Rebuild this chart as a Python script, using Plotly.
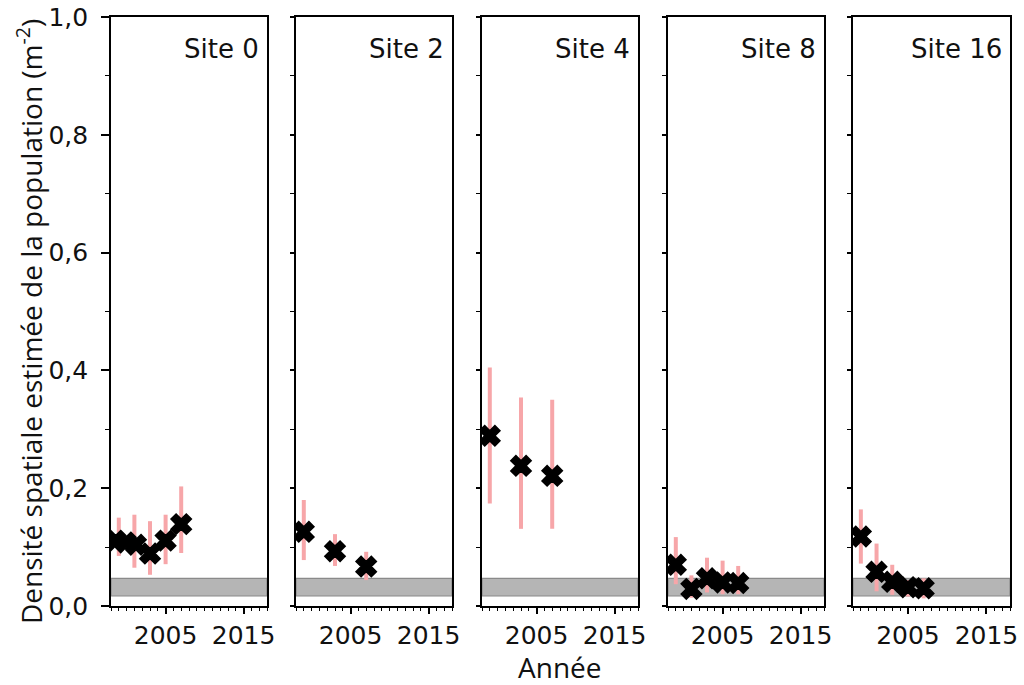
import plotly.graph_objects as go

# ---------------- data ----------------
sites = ["Site 0", "Site 2", "Site 4", "Site 8", "Site 16"]

s0_year = [1998.6, 1999.9, 2001.2, 2003, 2005, 2007]
s0_val = [0.111, 0.108, 0.104, 0.089, 0.111, 0.139]
s0_bar_year = [1999, 2001, 2003, 2005, 2007]
s0_low = [0.085, 0.065, 0.053, 0.071, 0.090]
s0_high = [0.150, 0.155, 0.144, 0.155, 0.203]

s2_year = [1999, 2003, 2007]
s2_val = [0.126, 0.093, 0.067]
s2_bar_year = [1999, 2003, 2007]
s2_low = [0.078, 0.068, 0.044]
s2_high = [0.180, 0.122, 0.092]

s4_year = [1999, 2003, 2007]
s4_val = [0.289, 0.238, 0.221]
s4_bar_year = [1999, 2003, 2007]
s4_low = [0.174, 0.131, 0.131]
s4_high = [0.405, 0.354, 0.350]

s8_year = [1999, 2001, 2003, 2005, 2007]
s8_val = [0.070, 0.029, 0.047, 0.040, 0.039]
s8_bar_year = [1999, 2001, 2003, 2005, 2007]
s8_low = [0.037, 0.014, 0.023, 0.020, 0.020]
s8_high = [0.117, 0.052, 0.082, 0.077, 0.068]

s16_year = [1999, 2001, 2003, 2005, 2007]
s16_val = [0.118, 0.058, 0.041, 0.032, 0.030]
s16_bar_year = [1999, 2001, 2003, 2005, 2007]
s16_low = [0.072, 0.025, 0.019, 0.016, 0.013]
s16_high = [0.164, 0.106, 0.070, 0.044, 0.047]

band_low = 0.017
band_high = 0.047

y_ticks = [0.0, 0.2, 0.4, 0.6, 0.8, 1.0]
y_ticklabels = ["0,0", "0,2", "0,4", "0,6", "0,8", "1,0"]
x_ticks = [2005, 2015]
x_ticklabels = ["2005", "2015"]
x_range = [1998, 2018]

data = [
    (s0_year, s0_val, s0_bar_year, s0_low, s0_high),
    (s2_year, s2_val, s2_bar_year, s2_low, s2_high),
    (s4_year, s4_val, s4_bar_year, s4_low, s4_high),
    (s8_year, s8_val, s8_bar_year, s8_low, s8_high),
    (s16_year, s16_val, s16_bar_year, s16_low, s16_high),
]

# ---------------- layout geometry ----------------
W, H = 1024, 685
panel_px = [(111, 267), (296, 452), (482, 638), (668, 824), (853, 1010)]
y_top_px, y_bot_px = 17, 606
ydom = [(H - y_bot_px) / H, (H - y_top_px) / H]

TICK_FONT = dict(family="DejaVu Sans", size=25, color="#111111")
BAR_COLOR = "#f7a6a9"

fig = go.Figure()
layout = dict(
    width=W, height=H,
    margin=dict(l=0, r=0, t=0, b=0, autoexpand=False),
    paper_bgcolor="white", plot_bgcolor="white",
    showlegend=False,
    separators=", ",
)
shapes = []
annotations = []

for i, (name, (yr, val, byr, lo, hi)) in enumerate(zip(sites, data)):
    n = i + 1
    xa = "x" if n == 1 else f"x{n}"
    ya = "y" if n == 1 else f"y{n}"
    mid = [(a + b) / 2 for a, b in zip(lo, hi)]
    fig.add_trace(go.Scatter(
        x=byr, y=mid, mode="markers",
        marker=dict(size=1, color="rgba(0,0,0,0)"),
        error_y=dict(type="data", symmetric=False,
                     array=[h - m for h, m in zip(hi, mid)],
                     arrayminus=[m - l for m, l in zip(mid, lo)],
                     color=BAR_COLOR, thickness=4, width=0),
        xaxis=xa, yaxis=ya, hoverinfo="skip",
    ))
    fig.add_trace(go.Scatter(
        x=yr, y=val, mode="markers",
        marker=dict(symbol="x", size=18, color="black",
                    line=dict(color="black", width=1.5)),
        xaxis=xa, yaxis=ya,
    ))
    x0, x1 = panel_px[i]
    layout[f"xaxis{n if n > 1 else ''}"] = dict(
        domain=[x0 / W, x1 / W], range=x_range, anchor=ya, automargin=False,
        tickmode="array", tickvals=x_ticks, ticktext=x_ticklabels,
        ticks="outside", ticklen=6, tickwidth=1.5, tickcolor="black",
        minor=dict(ticks="outside", dtick=1, tick0=1998, ticklen=3,
                   tickwidth=1.2, tickcolor="black"),
        showline=True, linecolor="black", linewidth=1.6, mirror=True,
        showgrid=False, zeroline=False, tickfont=TICK_FONT,
    )
    layout[f"yaxis{n if n > 1 else ''}"] = dict(
        domain=ydom, range=[0, 1.0], anchor=xa, automargin=False,
        tickmode="array", tickvals=y_ticks, ticktext=y_ticklabels,
        showticklabels=(n == 1), ticklabelstandoff=8,
        ticks="outside", ticklen=8 if n == 1 else 4, tickwidth=1.5, tickcolor="black",
        minor=dict(ticks="outside", dtick=0.1, tick0=0, ticklen=4,
                   tickwidth=1.2, tickcolor="black"),
        showline=True, linecolor="black", linewidth=1.6, mirror=True,
        showgrid=False, zeroline=False, tickfont=TICK_FONT,
    )
    shapes.append(dict(
        type="rect", xref=f"{xa} domain", yref=ya,
        x0=0, x1=1, y0=band_low, y1=band_high,
        fillcolor="#b5b5b5", line=dict(color="#8a8a8a", width=1.2),
        layer="below",
    ))
    annotations.append(dict(
        text=name, xref=f"{xa} domain", yref=f"{ya} domain",
        x=0.96, y=0.975, xanchor="right", yanchor="top", showarrow=False,
        font=dict(family="DejaVu Sans", size=26, color="#111111"),
    ))

annotations.append(dict(
    text="Densité spatiale estimée de la population (m<sup>-2</sup>)",
    xref="paper", yref="paper", x=29 / W, y=(H - 322) / H,
    xanchor="center", yanchor="middle", textangle=-90, showarrow=False,
    font=dict(family="Open Sans", size=28, color="#111111"),
))
annotations.append(dict(
    text="Année", xref="paper", yref="paper", x=560 / W, y=(H - 667) / H,
    xanchor="center", yanchor="middle", showarrow=False,
    font=dict(family="Open Sans", size=28, color="#111111"),
))

layout["shapes"] = shapes
layout["annotations"] = annotations
fig.update_layout(**layout)

fig.write_html("out.html", config={"displayModeBar": False},
               post_script="document.body.style.margin='0';document.documentElement.style.overflow='hidden';")
